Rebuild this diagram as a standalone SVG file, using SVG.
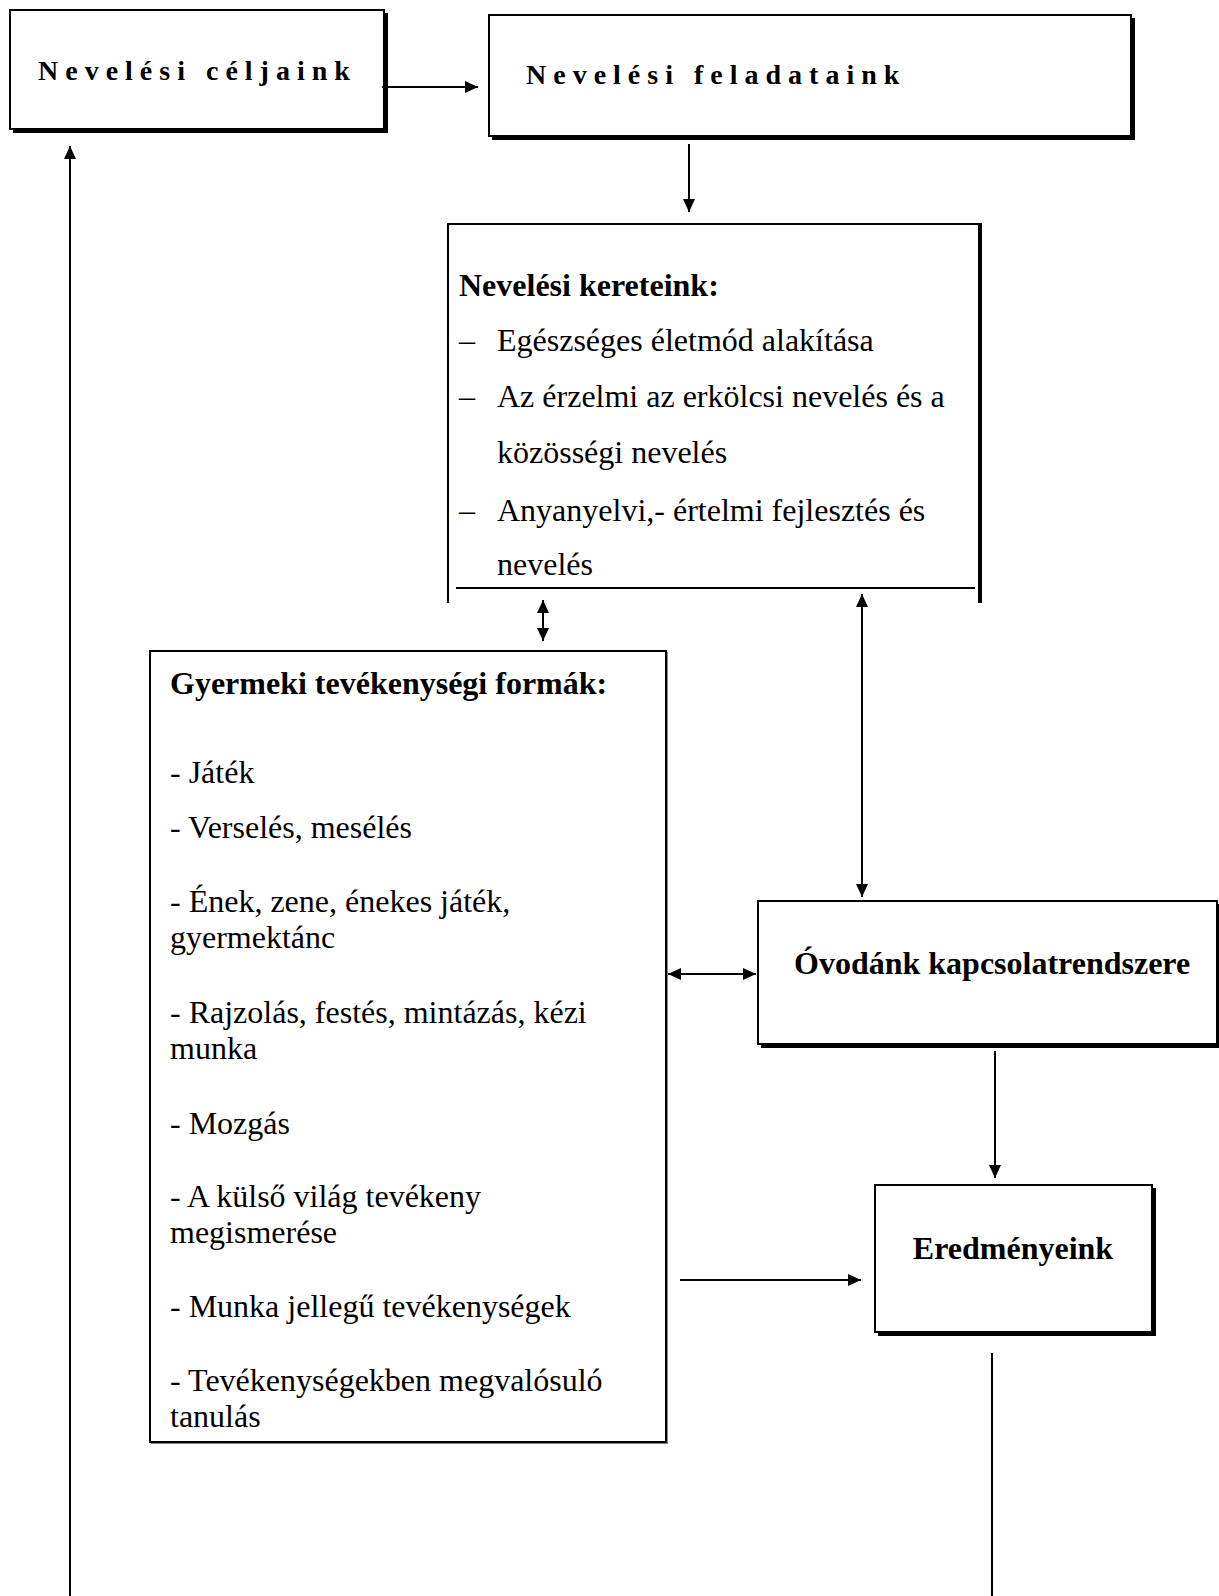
<svg xmlns="http://www.w3.org/2000/svg" width="1219" height="1596" viewBox="0 0 1219 1596">
<style>
.bg{fill:#fff}
.box{fill:#fff;stroke:#000;stroke-width:2}
.shadow{fill:#000}
.conn{fill:none;stroke:#000;stroke-width:2}
.t{font-family:"Liberation Serif","Times New Roman",serif;font-size:32px;fill:#000}
.b{font-weight:bold}
.sp{font-size:28px;font-weight:bold;letter-spacing:7px}
</style>
<defs>
<marker id="ah" markerUnits="userSpaceOnUse" markerWidth="14" markerHeight="12" refX="13" refY="6" orient="auto-start-reverse" viewBox="0 0 14 12">
<path d="M0,0 L13,6 L0,12 z" fill="#000"/>
</marker>
</defs>
<rect class="bg" x="0" y="0" width="1219" height="1596"/>

<g id="celjaink">
<rect class="shadow" x="13" y="13" width="375" height="120"/>
<rect class="box" x="10" y="10" width="374" height="119"/>
<text class="t sp" x="38" y="80">Nevelési céljaink</text>
</g>

<g id="feladataink">
<rect class="shadow" x="492" y="18" width="643" height="122"/>
<rect class="box" x="489" y="15" width="642" height="121"/>
<text class="t sp" x="526" y="84">Nevelési feladataink</text>
</g>

<g id="kereteink">
<path d="M448,603 V224 H980" fill="none" stroke="#000" stroke-width="2"/>
<path d="M980,223 V603" fill="none" stroke="#000" stroke-width="4"/>
<path d="M456,588 H975" fill="none" stroke="#000" stroke-width="2"/>
<text class="t b" x="459" y="296">Nevelési kereteink:</text>
<text class="t" x="459" y="351">–</text>
<text class="t" x="497" y="351">Egészséges életmód alakítása</text>
<text class="t" x="459" y="407">–</text>
<text class="t" x="497" y="407">Az érzelmi az erkölcsi nevelés és a</text>
<text class="t" x="497" y="463">közösségi nevelés</text>
<text class="t" x="459" y="521">–</text>
<text class="t" x="497" y="521">Anyanyelvi,- értelmi fejlesztés és</text>
<text class="t" x="497" y="575">nevelés</text>
</g>

<g id="gyermeki">
<rect x="151" y="652" width="517" height="792" fill="#888"/>
<rect x="150" y="651" width="516" height="791" fill="#fff" stroke="#000" stroke-width="2"/>
<text class="t b" x="170" y="694">Gyermeki tevékenységi formák:</text>
<text class="t" x="170" y="783">- Játék</text>
<text class="t" x="170" y="838">- Verselés, mesélés</text>
<text class="t" x="170" y="912">- Ének, zene, énekes játék,</text>
<text class="t" x="170" y="948">gyermektánc</text>
<text class="t" x="170" y="1023">- Rajzolás, festés, mintázás, kézi</text>
<text class="t" x="170" y="1059">munka</text>
<text class="t" x="170" y="1134">- Mozgás</text>
<text class="t" x="170" y="1207">- A külső világ tevékeny</text>
<text class="t" x="170" y="1243">megismerése</text>
<text class="t" x="170" y="1317">- Munka jellegű tevékenységek</text>
<text class="t" x="170" y="1391">- Tevékenységekben megvalósuló</text>
<text class="t" x="170" y="1427">tanulás</text>
</g>

<g id="ovodank">
<rect class="shadow" x="761" y="904" width="460" height="144"/>
<rect class="box" x="758" y="901" width="459" height="143"/>
<text class="t b" x="794" y="974">Óvodánk kapcsolatrendszere</text>
</g>

<g id="eredmenyeink">
<rect class="shadow" x="878" y="1188" width="278" height="148"/>
<rect class="box" x="875" y="1185" width="277" height="147"/>
<text class="t b" x="1013" y="1259" text-anchor="middle">Eredményeink</text>
</g>

<g id="connectors">
<path class="conn" d="M382,87 H478" marker-end="url(#ah)"/>
<path class="conn" d="M689,144 V212" marker-end="url(#ah)"/>
<path class="conn" d="M543,600 V641" marker-start="url(#ah)" marker-end="url(#ah)"/>
<path class="conn" d="M862,594 V897" marker-start="url(#ah)" marker-end="url(#ah)"/>
<path class="conn" d="M668,974 H756" marker-start="url(#ah)" marker-end="url(#ah)"/>
<path class="conn" d="M995,1051 V1178" marker-end="url(#ah)"/>
<path class="conn" d="M680,1280 H861" marker-end="url(#ah)"/>
<path class="conn" d="M992,1353 V1596"/>
<path class="conn" d="M70,1596 V146" marker-end="url(#ah)"/>
</g>
</svg>
